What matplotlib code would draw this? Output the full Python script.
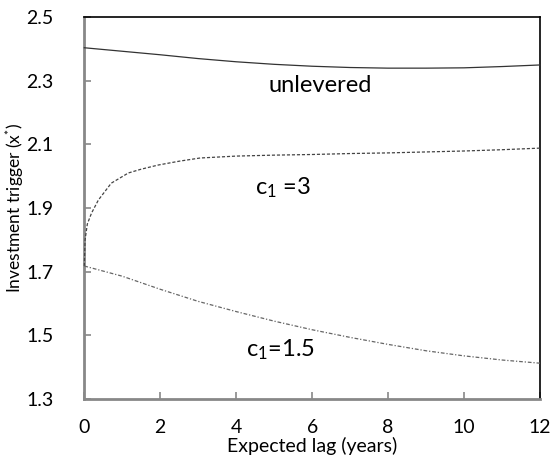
import matplotlib.pyplot as plt

plt.rcParams['font.family'] = ['Lato', 'DejaVu Sans']
plt.rcParams['mathtext.fontset'] = 'custom'
plt.rcParams['mathtext.rm'] = 'Lato'
plt.rcParams['mathtext.it'] = 'Lato'
plt.rcParams['mathtext.default'] = 'rm'

# Investment trigger vs expected lag
lag_unlev = [0, 1, 2, 3, 4, 5, 6, 7, 8, 9, 10, 11, 12]
trig_unlev = [2.403, 2.392, 2.381, 2.369, 2.359, 2.351, 2.345, 2.341, 2.339, 2.339, 2.340, 2.344, 2.349]

lag_c3 = [0, 0.02, 0.08, 0.19, 0.37, 0.71, 1.16, 1.5, 1.95, 2.5, 3.05, 4, 5, 6, 7, 8, 9, 10, 11, 12]
trig_c3 = [1.718, 1.80, 1.85, 1.884, 1.925, 1.978, 2.010, 2.022, 2.035, 2.047, 2.057, 2.063, 2.066, 2.068, 2.071, 2.073, 2.076, 2.079, 2.083, 2.088]

lag_c15 = [0, 1, 2, 3, 4, 5, 6, 7, 8, 9, 10, 11, 12]
trig_c15 = [1.718, 1.686, 1.645, 1.607, 1.575, 1.545, 1.518, 1.494, 1.472, 1.452, 1.436, 1.423, 1.413]

fig, ax = plt.subplots(figsize=(5.51, 4.68), dpi=100)
fig.subplots_adjust(left=0.153, right=0.98, top=0.964, bottom=0.147)

ax.plot(lag_unlev, trig_unlev, color='#333333', lw=0.9, ls='-', zorder=5, clip_on=False)
ax.plot(lag_c3, trig_c3, color='#444444', lw=0.9, ls=(0, (2.5, 1.5)), zorder=5, clip_on=False)
ax.plot(lag_c15, trig_c15, color='#666666', lw=0.9, ls=(0, (3, 1.5, 1, 1.5)), zorder=5, clip_on=False)

ax.text(6.2, 2.286, 'unlevered', fontsize=17, ha='center', va='center')
ax.text(5.24, 1.963, r'c$_1$ =3', fontsize=17, ha='center', va='center')
ax.text(5.16, 1.454, r'c$_1$=1.5', fontsize=17, ha='center', va='center')

ax.set_xlim(0, 12)
ax.set_ylim(1.3, 2.5)
ax.set_xticks([0, 2, 4, 6, 8, 10, 12])
ax.set_yticks([1.3, 1.5, 1.7, 1.9, 2.1, 2.3, 2.5])
ax.set_yticklabels(['1.3', '1.5', '1.7', '1.9', '2.1', '2.3', '2.5'])

ax.set_xlabel('Expected lag (years)', fontsize=14, labelpad=1)
ax.set_ylabel(r'Investment trigger (x$^{*}$)', fontsize=12.5, labelpad=0)

for side in ['left', 'bottom']:
    ax.spines[side].set_color('#888888')
    ax.spines[side].set_linewidth(2)
for side in ['top', 'right']:
    ax.spines[side].set_color('black')
    ax.spines[side].set_linewidth(1.2)

ax.tick_params(axis='both', direction='in', length=5, width=1.2, color='#888888', labelsize=14)
ax.tick_params(axis='x', pad=14)
ax.tick_params(axis='y', pad=22)

fig.savefig('out.png')
